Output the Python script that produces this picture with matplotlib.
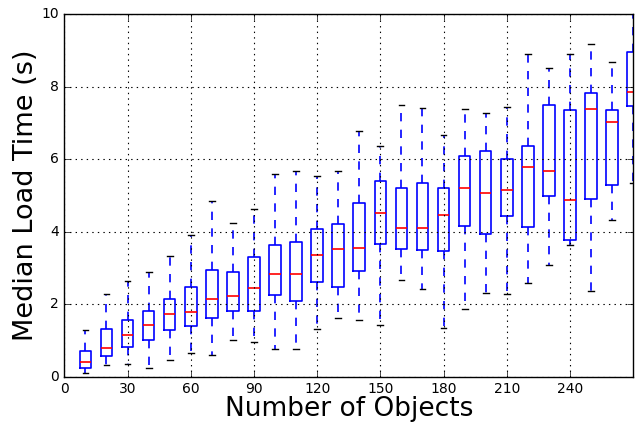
import matplotlib
matplotlib.use("Agg")
import matplotlib.pyplot as plt

# number of objects per page (box positions)
positions = [10, 20, 30, 40, 50, 60, 70, 80, 90, 100, 110, 120, 130, 140,
             150, 160, 170, 180, 190, 200, 210, 220, 230, 240, 250, 260, 270]

# box statistics (seconds)
whisker_low = [0.10, 0.31, 0.35, 0.23, 0.47, 0.65, 0.60, 1.02, 0.96, 0.75,
               0.75, 1.32, 1.62, 1.57, 1.43, 2.66, 2.43, 1.35, 1.87, 2.31,
               2.27, 2.58, 3.09, 3.64, 2.35, 4.33, 5.35]
q1 = [0.25, 0.56, 0.82, 1.02, 1.30, 1.39, 1.62, 1.80, 1.82, 2.24,
      2.09, 2.60, 2.48, 2.92, 3.67, 3.53, 3.49, 3.47, 4.17, 3.93,
      4.44, 4.14, 4.98, 3.76, 4.91, 5.30, 7.47]
medians = [0.39, 0.79, 1.16, 1.42, 1.72, 1.78, 2.15, 2.23, 2.46, 2.84,
           2.84, 3.37, 3.51, 3.56, 4.52, 4.10, 4.10, 4.46, 5.22, 5.07,
           5.16, 5.79, 5.68, 4.88, 7.38, 7.04, 7.85]
q3 = [0.70, 1.32, 1.57, 1.82, 2.14, 2.48, 2.94, 2.89, 3.31, 3.63,
      3.72, 4.07, 4.22, 4.80, 5.40, 5.20, 5.34, 5.20, 6.10, 6.22,
      6.02, 6.37, 7.51, 7.36, 7.83, 7.36, 8.96]
whisker_high = [1.30, 2.29, 2.65, 2.89, 3.32, 3.91, 4.84, 4.25, 4.63, 5.60,
                5.67, 5.55, 5.67, 6.79, 6.36, 7.51, 7.42, 6.67, 7.40, 7.27,
                7.44, 8.92, 8.53, 8.90, 9.18, 8.70, 10.60]

stats = []
for lo, a, m, b, hi in zip(whisker_low, q1, medians, q3, whisker_high):
    stats.append({'whislo': lo, 'q1': a, 'med': m, 'q3': b, 'whishi': hi, 'fliers': []})

plt.style.use('classic')
fig = plt.figure(figsize=(6.37, 4.26), dpi=100, facecolor='white')
ax = fig.add_axes([0.101, 0.116, 0.893, 0.850])

ax.bxp(stats, positions=positions, widths=5.5, showfliers=False,
       boxprops=dict(color='blue', linewidth=1.2),
       whiskerprops=dict(color='blue', linestyle='--', linewidth=1.2),
       capprops=dict(color='black', linewidth=1.0),
       medianprops=dict(color='red', linewidth=1.2))

ax.set_xlim(0, 270)
ax.set_ylim(0, 10)
ax.set_xticks(range(0, 241, 30))
ax.set_xticklabels([str(t) for t in range(0, 241, 30)])
ax.set_yticks(range(0, 11, 2))
ax.tick_params(labelsize=10, pad=4)
ax.grid(True, linestyle=':', color='black', linewidth=0.8)
ax.set_xlabel('Number of Objects', fontsize=19)
ax.set_ylabel('Median Load Time (s)', fontsize=19.5)
ax.yaxis.set_label_coords(-0.045, 0.5)
ax.xaxis.set_label_coords(0.5, -0.054)

plt.savefig('out.png', dpi=100, facecolor='white')
